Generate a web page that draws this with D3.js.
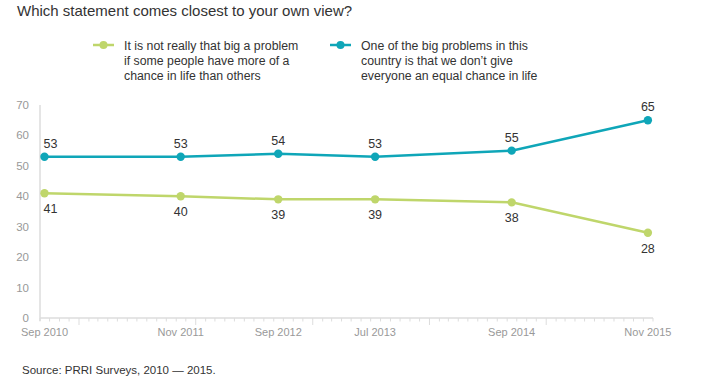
<!DOCTYPE html>
<html>
<head>
  <meta charset="utf-8">
  <style>
    body { margin: 0; background: #fff; font-family: "Liberation Sans", Arial, sans-serif; }
    .title { font-size: 15px; fill: #333; }
    .legend-text { font-size: 12.3px; fill: #333; }
    .val { font-size: 12.5px; fill: #333; }
    .ylab { font-size: 11.5px; fill: #999; }
    .xlab { font-size: 11px; fill: #999; }
    .source { font-size: 11.5px; fill: #333; }
  </style>
</head>
<body>
  <div id="chart"></div>
  <script src="https://cdn.jsdelivr.net/npm/d3@7"></script>
  <script>
    var dates = ['2010-09', '2011-11', '2012-09', '2013-07', '2014-09', '2015-11'];
    var dateLabels = ['Sep 2010', 'Nov 2011', 'Sep 2012', 'Jul 2013', 'Sep 2014', 'Nov 2015'];
    var notBigProblem = [41, 40, 39, 39, 38, 28];
    var bigProblem = [53, 53, 54, 53, 55, 65];
    var yTicks = [0, 10, 20, 30, 40, 50, 60, 70];
    var legendGreen = ['It is not really that big a problem', 'if some people have more of a', 'chance in life than others'];
    var legendTeal = ['One of the big problems in this', 'country is that we don\u2019t give', 'everyone an equal chance in life'];

    var green = '#bfd66b';
    var teal = '#0fa6b8';
    var width = 715, height = 385;
    var parse = d3.timeParse('%Y-%m');
    // surveys plotted mid-month
    var pts = dates.map(function (d) { return d3.timeDay.offset(parse(d), 14); });

    var svg = d3.select('#chart').append('svg')
      .attr('width', width)
      .attr('height', height);

    var x = d3.scaleTime()
      .domain([new Date(2010, 8, 1), new Date(2015, 11, 1)])
      .range([40, 653]);
    var y = d3.scaleLinear().domain([0, 70]).range([318, 105]);

    svg.append('text').attr('class', 'title')
      .attr('x', 17).attr('y', 16)
      .text('Which statement comes closest to your own view?');

    // legend
    function legend(x0, color, lines) {
      var g = svg.append('g');
      g.append('line').attr('x1', x0).attr('x2', x0 + 21).attr('y1', 45).attr('y2', 45)
        .attr('stroke', color).attr('stroke-width', 2.5);
      g.append('circle').attr('cx', x0 + 10.5).attr('cy', 45).attr('r', 4).attr('fill', color);
      g.selectAll('text').data(lines).enter().append('text')
        .attr('class', 'legend-text')
        .attr('x', x0 + 31)
        .attr('y', function (d, i) { return 50 + i * 15; })
        .text(function (d) { return d; });
    }
    legend(93, green, legendGreen);
    legend(330, teal, legendTeal);

    // y axis
    svg.append('line').attr('x1', 40).attr('x2', 40).attr('y1', y(70)).attr('y2', 321)
      .attr('stroke', '#ddd').attr('stroke-width', 1.5);
    svg.selectAll('.ylab').data(yTicks).enter().append('text')
      .attr('class', 'ylab')
      .attr('x', 29).attr('y', function (d) { return y(d) + 4; })
      .attr('text-anchor', 'end')
      .text(function (d) { return d; });

    // x axis
    svg.append('line').attr('x1', 40).attr('x2', 653).attr('y1', 318).attr('y2', 318)
      .attr('stroke', '#ddd').attr('stroke-width', 1.5);
    var months = d3.timeMonth.range(x.domain()[0], d3.timeDay.offset(x.domain()[1], 1));
    svg.selectAll('.tick').data(months).enter().append('line')
      .attr('x1', function (d) { return x(d); }).attr('x2', function (d) { return x(d); })
      .attr('y1', 318)
      .attr('y2', function (d) { return d.getMonth() === 0 ? 325 : 321.5; })
      .attr('stroke', '#ddd').attr('stroke-width', 1);
    svg.selectAll('.xlab').data(pts).enter().append('text')
      .attr('class', 'xlab')
      .attr('x', function (d) { return x(d); }).attr('y', 336)
      .attr('text-anchor', 'middle')
      .text(function (d, i) { return dateLabels[i]; });

    // series
    var line = d3.line()
      .x(function (d, i) { return x(pts[i]); })
      .y(function (d) { return y(d); });

    function series(vals, color, dy) {
      svg.append('path').datum(vals)
        .attr('d', line)
        .attr('fill', 'none')
        .attr('stroke', color)
        .attr('stroke-width', 2.5);
      svg.selectAll(null).data(vals).enter().append('circle')
        .attr('cx', function (d, i) { return x(pts[i]); })
        .attr('cy', function (d) { return y(d); })
        .attr('r', 4.2)
        .attr('fill', color);
      svg.selectAll(null).data(vals).enter().append('text')
        .attr('class', 'val')
        .attr('x', function (d, i) { return i === 0 ? x(pts[i]) - 1 : x(pts[i]); })
        .attr('y', function (d) { return y(d) + dy; })
        .attr('text-anchor', function (d, i) { return i === 0 ? 'start' : 'middle'; })
        .text(function (d) { return d; });
    }
    series(notBigProblem, green, 20);
    series(bigProblem, teal, -9);

    svg.append('text').attr('class', 'source')
      .attr('x', 22).attr('y', 374)
      .text('Source: PRRI Surveys, 2010 \u2014 2015.');
  </script>
</body>
</html>
